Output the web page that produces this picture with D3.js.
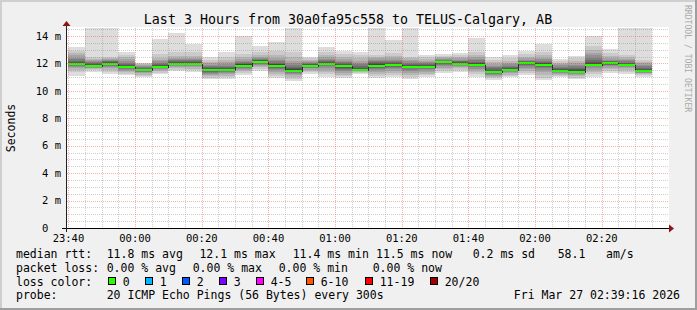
<!DOCTYPE html>
<html>
<head>
<meta charset="utf-8">
<script src="https://cdn.jsdelivr.net/npm/d3@7"></script>
<style>
  html, body { margin: 0; padding: 0; background: #f0f0f0; }
  svg { display: block; }
  text { font-family: "DejaVu Sans Mono", monospace; white-space: pre; }
</style>
</head>
<body>
<div id="chart"></div>
<script>
// bar end times (5 min steps)
const barEnds = ["23:45","23:50","23:55","00:00","00:05","00:10","00:15","00:20","00:25","00:30",
  "00:35","00:40","00:45","00:50","00:55","01:00","01:05","01:10","01:15","01:20",
  "01:25","01:30","01:35","01:40","01:45","01:50","01:55","02:00","02:05","02:10",
  "02:15","02:20","02:25","02:30","02:35"];

// median rtt, ms
const medians = [11.96,11.84,11.98,11.74,11.52,11.76,11.99,11.99,11.52,11.52,
  11.81,12.10,11.84,11.45,11.81,11.99,11.81,11.52,11.81,11.91,
  11.74,11.74,12.08,11.99,11.91,11.38,11.52,12.01,11.91,11.45,
  11.38,11.91,12.01,11.91,11.45];

// packets lost per step (all zero)
const loss = [0,0,0,0,0,0,0,0,0,0,0,0,0,0,0,0,0,0,0,0,0,0,0,0,0,0,0,0,0,0,0,0,0,0,0];

// 20 sorted pings per step, ms
const pings = [
  [11.10,11.35,11.55,11.65,11.75,11.82,11.88,11.93,11.97,12.00,12.02,12.06,12.12,12.20,12.30,12.42,12.58,12.75,12.90,13.22],
  [11.40,11.50,11.58,11.64,11.70,11.74,11.78,11.81,11.83,11.85,11.87,11.90,11.95,12.00,12.08,12.15,12.25,12.35,12.50,14.90],
  [11.23,11.40,11.55,11.65,11.75,11.82,11.88,11.93,11.97,12.00,12.02,12.05,12.10,12.15,12.20,12.28,12.35,12.42,12.50,14.90],
  [11.16,11.25,11.35,11.45,11.55,11.62,11.67,11.71,11.74,11.76,11.78,11.82,11.88,11.95,12.05,12.15,12.30,12.45,12.62,12.81],
  [10.99,11.08,11.18,11.27,11.34,11.40,11.44,11.47,11.50,11.52,11.54,11.57,11.61,11.66,11.72,11.78,11.85,11.92,12.00,12.06],
  [11.23,11.32,11.42,11.50,11.57,11.63,11.68,11.71,11.74,11.76,11.78,11.82,11.88,11.95,12.05,12.15,12.25,12.40,12.70,13.78],
  [11.47,11.55,11.65,11.75,11.82,11.88,11.92,11.95,11.98,12.00,12.02,12.05,12.10,12.15,12.22,12.30,12.40,12.55,12.80,14.24],
  [11.40,11.52,11.62,11.72,11.80,11.86,11.91,11.95,11.98,12.00,12.02,12.05,12.10,12.16,12.22,12.30,12.40,12.55,12.80,13.39],
  [10.84,10.95,11.05,11.15,11.25,11.33,11.40,11.45,11.49,11.52,11.55,11.60,11.66,11.74,11.82,11.90,12.00,12.12,12.28,12.49],
  [10.86,10.98,11.10,11.20,11.30,11.38,11.43,11.47,11.50,11.52,11.55,11.60,11.66,11.74,11.84,11.95,12.08,12.25,12.50,12.86],
  [11.16,11.30,11.42,11.52,11.60,11.68,11.74,11.78,11.82,11.84,11.87,11.92,11.98,12.05,12.12,12.20,12.30,12.45,12.70,14.00],
  [11.43,11.60,11.72,11.82,11.90,11.97,12.03,12.07,12.10,12.13,12.15,12.18,12.22,12.28,12.35,12.42,12.50,12.62,12.85,13.30],
  [10.97,11.10,11.25,11.40,11.52,11.62,11.70,11.76,11.80,11.84,11.87,11.92,11.98,12.05,12.15,12.25,12.40,12.60,12.90,13.59],
  [10.74,10.88,11.00,11.12,11.22,11.30,11.36,11.41,11.45,11.47,11.50,11.56,11.65,11.75,11.88,12.02,12.20,12.45,12.85,14.90],
  [11.23,11.35,11.45,11.55,11.63,11.70,11.75,11.79,11.82,11.84,11.86,11.89,11.93,11.98,12.04,12.10,12.18,12.27,12.38,12.49],
  [10.99,11.20,11.40,11.55,11.68,11.78,11.86,11.92,11.97,12.00,12.02,12.05,12.10,12.16,12.24,12.33,12.45,12.60,12.85,13.18],
  [10.92,11.05,11.18,11.30,11.42,11.52,11.62,11.70,11.78,11.84,11.87,11.91,11.96,12.02,12.10,12.20,12.32,12.48,12.68,12.93],
  [11.23,11.30,11.36,11.41,11.45,11.48,11.50,11.51,11.52,11.53,11.56,11.62,11.70,11.80,11.92,12.05,12.20,12.38,12.60,12.86],
  [10.92,11.10,11.25,11.40,11.52,11.62,11.70,11.76,11.80,11.84,11.88,11.93,12.00,12.08,12.18,12.28,12.38,12.48,12.58,14.90],
  [10.99,11.15,11.30,11.45,11.58,11.68,11.76,11.82,11.86,11.89,11.92,11.96,12.02,12.10,12.18,12.27,12.38,12.52,12.75,13.71],
  [10.86,11.02,11.18,11.32,11.45,11.55,11.63,11.69,11.73,11.76,11.79,11.84,11.90,11.98,12.06,12.15,12.25,12.36,12.50,14.90],
  [10.99,11.12,11.25,11.38,11.50,11.59,11.66,11.71,11.74,11.76,11.79,11.83,11.88,11.94,12.02,12.10,12.20,12.32,12.46,12.61],
  [11.33,11.45,11.58,11.70,11.80,11.88,11.95,12.00,12.05,12.08,12.10,12.13,12.16,12.20,12.25,12.31,12.38,12.47,12.57,12.69],
  [11.40,11.52,11.63,11.72,11.80,11.87,11.92,11.96,11.98,12.00,12.02,12.05,12.09,12.14,12.20,12.28,12.37,12.48,12.62,12.78],
  [11.04,11.20,11.35,11.50,11.62,11.72,11.80,11.86,11.90,11.93,11.96,12.00,12.06,12.13,12.22,12.32,12.45,12.62,12.86,13.88],
  [10.79,10.90,11.00,11.10,11.18,11.25,11.31,11.35,11.38,11.40,11.43,11.48,11.55,11.63,11.72,11.82,11.94,12.08,12.28,12.49],
  [10.99,11.08,11.18,11.27,11.35,11.41,11.45,11.48,11.50,11.52,11.55,11.60,11.66,11.74,11.83,11.93,12.05,12.20,12.40,12.63],
  [11.16,11.30,11.45,11.58,11.70,11.80,11.88,11.94,11.98,12.00,12.02,12.05,12.09,12.14,12.20,12.28,12.38,12.50,12.66,12.88],
  [10.79,10.95,11.15,11.35,11.52,11.65,11.75,11.83,11.89,11.93,11.96,12.00,12.05,12.12,12.20,12.30,12.42,12.58,12.85,13.39],
  [10.99,11.08,11.17,11.25,11.32,11.37,11.41,11.44,11.46,11.47,11.50,11.55,11.61,11.68,11.76,11.85,11.95,12.06,12.18,12.30],
  [10.86,10.96,11.06,11.15,11.23,11.29,11.34,11.37,11.39,11.40,11.43,11.49,11.57,11.67,11.78,11.90,12.03,12.18,12.36,12.55],
  [10.99,11.20,11.40,11.55,11.68,11.78,11.85,11.89,11.91,11.93,11.97,12.03,12.12,12.25,12.40,12.58,12.78,13.00,13.30,14.02],
  [11.33,11.48,11.60,11.70,11.78,11.85,11.90,11.94,11.97,12.00,12.02,12.05,12.09,12.14,12.20,12.28,12.38,12.52,12.75,13.03],
  [11.23,11.38,11.52,11.63,11.72,11.79,11.84,11.87,11.88,11.89,11.91,11.95,12.00,12.06,12.14,12.24,12.35,12.48,12.62,14.90],
  [11.03,11.12,11.20,11.27,11.33,11.38,11.42,11.44,11.46,11.47,11.50,11.55,11.62,11.70,11.80,11.90,12.00,12.10,12.25,14.90]
];

const yTicks = [0, 2, 4, 6, 8, 10, 12, 14];
const xTickLabels = ["23:40","00:00","00:20","00:40","01:00","01:20","01:40","02:00","02:20"];
const lossLabels = ["0","1","2","3","4-5","6-10","11-19","20/20"];
const lossColors = ["#26ff00","#00b8ff","#0059ff","#7e00ff","#ff00ff","#ff5500","#ff0000","#a10000"];

const W = 697, H = 310;
const pLeft = 66, pRight = 666, pTop = 28, pBottom = 228;
const yMax = 14.58;

function parseHM(s) {
  const [h, m] = s.split(":").map(Number);
  return new Date(2026, 2, h >= 12 ? 26 : 27, h, m);
}
const t0 = new Date(2026, 2, 26, 23, 39, 16);
const t1 = new Date(2026, 2, 27, 2, 39, 16);

const x = d3.scaleTime().domain([t0, t1]).range([pLeft, pRight]);
const y = d3.scaleLinear().domain([0, yMax]).range([pBottom, pTop]);

const svg = d3.select("#chart").append("svg")
  .attr("width", W).attr("height", H);

// frame
svg.append("rect").attr("width", W).attr("height", H).attr("fill", "#f0f0f0");
svg.append("path").attr("d", `M0,0H${W}V2H2V${H}H0Z`).attr("fill", "#cfcfcf");
svg.append("path").attr("d", `M${W},${H}H0V${H - 2}H${W - 2}V0H${W}Z`).attr("fill", "#9e9e9e");

// canvas
svg.append("rect").attr("x", pLeft).attr("y", pTop - 1)
  .attr("width", 669 - pLeft).attr("height", pBottom - pTop + 1).attr("fill", "#fff");

svg.append("clipPath").attr("id", "plot")
  .append("rect").attr("x", pLeft).attr("y", pTop).attr("width", 669 - pLeft).attr("height", pBottom - pTop);

const plot = svg.append("g").attr("clip-path", "url(#plot)").attr("shape-rendering", "crispEdges");

const bars = barEnds.map((e, i) => {
  const end = parseHM(e);
  const start = new Date(+end - 5 * 60000);
  return { x0: Math.max(pLeft, Math.round(x(start))), x1: Math.round(x(end)), p: pings[i], med: medians[i], loss: loss[i] };
});

// smoke: 10 layers from outer (light) to inner (dark)
for (let k = 0; k < 10; k++) {
  const c = 221 - 19 * k;
  plot.append("g").attr("fill", d3.rgb(c, c, c))
    .selectAll("rect").data(bars).join("rect")
    .attr("x", d => d.x0).attr("width", d => d.x1 - d.x0)
    .attr("y", d => y(d.p[19 - k]))
    .attr("height", d => y(d.p[k]) - y(d.p[19 - k]));
}

// grid
const grid = svg.append("g").attr("shape-rendering", "crispEdges").attr("stroke-dasharray", "1,1");
const minorT = d3.timeMinute.every(5).range(t0, t1);
minorT.forEach(t => {
  const major = t.getMinutes() % 20 === 0;
  const px = Math.round(x(t)) + 0.5;
  grid.append("line").attr("x1", px).attr("x2", px).attr("y1", pTop).attr("y2", pBottom)
    .attr("stroke", major ? "rgba(255,40,40,0.38)" : "rgba(120,120,120,0.35)");
});
d3.range(0.5, yMax, 0.5).forEach(v => {
  const major = v % 2 === 0;
  const py = Math.round(y(v)) + 0.5;
  grid.append("line").attr("x1", pLeft + 1).attr("x2", 669).attr("y1", py).attr("y2", py)
    .attr("stroke", major ? "rgba(255,40,40,0.38)" : "rgba(120,120,120,0.35)");
});

// median line
const medPts = bars.flatMap(d => [[d.x0, d.med], [d.x1, d.med]]);
plot.append("path")
  .attr("d", d3.line().x(d => d[0]).y(d => Math.round(y(d[1])) + 0.5)(medPts))
  .attr("fill", "none").attr("stroke", "#202020").attr("stroke-width", 1);

// loss-coloured median band
const sw = yMax / 200;
plot.append("g").selectAll("rect").data(bars).join("rect")
  .attr("x", d => d.x0).attr("width", d => d.x1 - d.x0)
  .attr("y", d => y(d.med + sw)).attr("height", d => y(d.med - sw) - y(d.med + sw))
  .attr("fill", d => lossColors[d.loss]);

// axes
svg.append("line").attr("x1", 62).attr("x2", 669).attr("y1", pBottom + 0.5).attr("y2", pBottom + 0.5)
  .attr("stroke", "#000").attr("shape-rendering", "crispEdges");
svg.append("line").attr("x1", pLeft + 0.5).attr("x2", pLeft + 0.5).attr("y1", pBottom + 4).attr("y2", 26)
  .attr("stroke", "#222").attr("shape-rendering", "crispEdges");
svg.append("path").attr("d", "M669,224.5L669,232.5L674,228.5Z").attr("fill", "#8b1414");
svg.append("path").attr("d", `M62.5,26L70.5,26L66.5,21Z`).attr("fill", "#8b1414");

// y labels
svg.append("g").attr("font-size", "10.5px").attr("fill", "#000")
  .selectAll("text").data(yTicks).join("text")
  .attr("x", d => d === 0 ? 61 - 2 * 6.32 : 61)
  .attr("y", d => y(d) + 3.8)
  .attr("text-anchor", "end")
  .text(d => d === 0 ? "0" : d + " m");

// x labels
svg.append("g").attr("font-size", "10.5px").attr("fill", "#000")
  .selectAll("text").data(xTickLabels).join("text")
  .attr("x", d => x(parseHM(d)))
  .attr("y", 241.5)
  .attr("text-anchor", "middle")
  .text(d => d);

// title
svg.append("text").attr("x", 348).attr("y", 24).attr("text-anchor", "middle")
  .attr("font-size", "13.3px").text("Last 3 Hours from 30a0fa95c558 to TELUS-Calgary, AB");

// y title
svg.append("text").attr("transform", "translate(14.5,128) rotate(-90)")
  .attr("text-anchor", "middle").attr("font-size", "11.5px").text("Seconds");

// watermark
svg.append("text").attr("transform", "translate(685,5) rotate(90)")
  .attr("font-size", "8.1px").attr("fill", "#aaa").text("RRDTOOL / TOBI OETIKER");

// legend
const leg = svg.append("g").attr("font-size", "11.5px").attr("fill", "#000");
const legendItems = [
  [16, 258, "median rtt:"], [106.7, 258, "11.8 ms avg"], [199.4, 258, "12.1 ms max"],
  [292.7, 258, "11.4 ms min"], [376, 258, "11.5 ms now"], [472.7, 258, "0.2 ms sd"],
  [557.7, 258, "58.1"], [606, 258, "am/s"],
  [16, 271.5, "packet loss:"], [106.7, 271.5, "0.00 % avg"], [192.7, 271.5, "0.00 % max"],
  [278.7, 271.5, "0.00 % min"], [372.7, 271.5, "0.00 % now"],
  [16, 285.5, "loss color:"],
  [16, 299, "probe:"], [106.7, 299, "20 ICMP Echo Pings (56 Bytes) every 300s"]
];
leg.selectAll("text.item").data(legendItems).join("text").attr("class", "item")
  .attr("x", d => d[0]).attr("y", d => d[1]).text(d => d[2]);
leg.append("text").attr("x", 680).attr("y", 299).attr("text-anchor", "end").text("Fri Mar 27 02:39:16 2026");

const swatchX = [108.5, 145.5, 182.5, 219.5, 256.5, 306.5, 365.5, 430.5];
const swg = leg.selectAll("g.sw").data(lossLabels).join("g").attr("class", "sw");
swg.append("rect")
  .attr("x", (d, i) => swatchX[i]).attr("y", 277.5).attr("width", 7).attr("height", 7)
  .attr("fill", (d, i) => lossColors[i]).attr("stroke", "#000").attr("stroke-width", 1)
  .attr("shape-rendering", "crispEdges");
swg.append("text")
  .attr("x", (d, i) => swatchX[i] + 14.2).attr("y", 285.5).text(d => d);
</script>
</body>
</html>
